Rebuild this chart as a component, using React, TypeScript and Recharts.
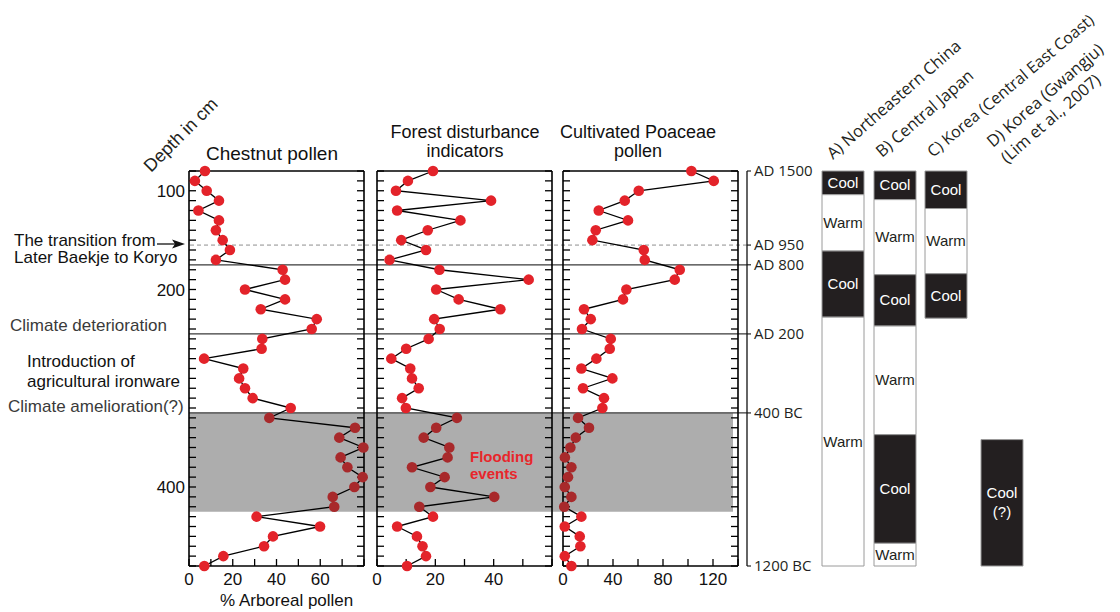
import React from 'react';
import { LineChart, Line, XAxis, YAxis, ComposedChart, ReferenceLine, ReferenceArea } from 'recharts';

document.body.style.margin = '0';

// sample depths (cm), one sample every 10 cm
const depths = [
  80, 90, 100, 110, 120, 130, 140, 150, 160, 170, 180, 190, 200, 210, 220, 230, 240, 250, 260, 270, 280,
  290, 300, 310, 320, 330, 340, 350, 360, 370, 380, 390, 400, 410, 420, 430, 440, 450, 460, 470, 480,
];
const depthLabels = [100, 200, 400];

const chestnut = [
  7.3, 2.7, 8.1, 13.7, 4.3, 13.7, 12.3, 15.4, 18.7, 12.3, 42.8, 43.9, 25.6, 43.9, 32.8, 58.4, 56.1, 33.5, 33.2, 6.9,
  24.8, 22.9, 25.6, 29.1, 46.5, 36.7, 75.9, 68.7, 79.7, 69.3, 72.4, 79.4, 75.6, 65.7, 66.4, 30.9, 59.9, 38.4, 34.3,
  15.7, 7.0,
];
const forest = [
  19.2, 10.6, 6.5, 39.1, 6.9, 28.6, 17.4, 8.3, 16.8, 4.3, 21.4, 52.0, 20.3, 28.0, 42.3, 19.6, 21.5, 17.7, 10.0, 4.9,
  11.4, 12.0, 14.3, 8.6, 9.9, 27.4, 20.3, 16.0, 24.8, 24.2, 12.0, 23.2, 18.3, 40.2, 14.5, 19.2, 6.9, 13.7, 15.6,
  16.8, 10.3,
];
const poaceae = [
  102.7, 120.6, 60.6, 49.4, 28.6, 52.0, 26.2, 23.5, 64.6, 65.4, 93.4, 89.4, 50.7, 48.0, 16.8, 22.2, 15.2, 38.2, 37.4,
  26.7, 14.7, 39.5, 16.0, 32.8, 31.5, 12.0, 20.8, 10.2, 5.9, 1.5, 6.7, 4.0, 1.4, 6.7, 1.0, 14.7, 1.4, 13.4, 13.9, 1.4,
  6.7,
];

const chestnutTicks = [0, 10, 20, 30, 40, 50, 60, 70, 80];
const chestnutLabels = [0, 20, 40, 60];
const forestTicks = [0, 10, 20, 30, 40, 50, 60];
const forestLabels = [0, 20, 40];
const poaceaeTicks = [0, 20, 40, 60, 80, 100, 120, 140];
const poaceaeLabels = [0, 40, 80, 120];

// chronology on the right-hand axis
const eraDepths = [80, 155, 175, 245, 325, 480];
const eraLabels = ['AD 1500', 'AD 950', 'AD 800', 'AD 200', '400 BC', '1200 BC'];
const solidBoundaries = [175, 245, 325];
const dashedBoundaries = [155];
const floodBand = [325, 425];

// climate records (depth-equivalent ranges)
const climateA = [
  { from: 80, to: 104, state: 'Cool' },
  { from: 104, to: 161, state: 'Warm' },
  { from: 161, to: 228, state: 'Cool' },
  { from: 228, to: 480, state: 'Warm' },
];
const climateB = [
  { from: 80, to: 109, state: 'Cool' },
  { from: 109, to: 185, state: 'Warm' },
  { from: 185, to: 237, state: 'Cool' },
  { from: 237, to: 347, state: 'Warm' },
  { from: 347, to: 457, state: 'Cool' },
  { from: 457, to: 480, state: 'Warm' },
];
const climateC = [
  { from: 80, to: 118, state: 'Cool' },
  { from: 118, to: 184, state: 'Warm' },
  { from: 184, to: 229, state: 'Cool' },
];
const climateD = [{ from: 352, to: 480, state: 'Cool\n(?)' }];

const FONT = '"Liberation Sans", Arial, sans-serif';
const HFONT = '"Open Sans", "Noto Sans", sans-serif';
const RED = '#e3232a';
const DARK_RED = '#a8292b';
const INK = '#231f20';

const FRAME_TOP = 171;
const FRAME_H = 395;
const FRAME_W = 175;
const DEPTH_DOMAIN = [80, 480];

const renderDot = (props: any) => {
  const { cx, cy, payload, index } = props;
  const inFlood = payload.depth > floodBand[0] && payload.depth <= floodBand[1];
  return <circle key={`dot-${index}`} cx={cx} cy={cy} r={5.3} fill={inFlood ? DARK_RED : RED} />;
};

function Panel({ frameLeft, values, domain, ticks, labels, showDepth }: any) {
  const m = { top: 20, right: 10, bottom: 10, left: 10 };
  const yW = 40;
  const xH = 40;
  const data = depths.map((depth, i) => ({ depth, value: values[i] }));
  const axisLine = { stroke: '#000', strokeWidth: 1.6 };
  const tickLine = { stroke: '#000', strokeWidth: 1.3 };
  const tickStyle = { fill: '#111', fontSize: 17, fontFamily: FONT };
  return (
    <div style={{ position: 'absolute', left: frameLeft - m.left - yW, top: FRAME_TOP - m.top - 1 }}>
      <LineChart
        layout="vertical"
        width={m.left + yW + FRAME_W + 1 + m.right}
        height={m.top + 1 + FRAME_H + xH + m.bottom}
        data={data}
        margin={m}
      >
        <XAxis
          xAxisId="b"
          type="number"
          domain={domain}
          ticks={ticks}
          interval={0}
          height={xH}
          tickSize={-7}
          tickMargin={14}
          axisLine={axisLine}
          tickLine={tickLine}
          tick={tickStyle}
          tickFormatter={(v: number) => (labels.includes(v) ? String(v) : '')}
        />
        <XAxis
          xAxisId="t"
          orientation="top"
          type="number"
          domain={domain}
          ticks={ticks}
          interval={0}
          height={1}
          tickSize={-7}
          axisLine={axisLine}
          tickLine={tickLine}
          tickFormatter={() => ''}
        />
        <YAxis
          yAxisId="l"
          type="number"
          dataKey="depth"
          domain={DEPTH_DOMAIN}
          ticks={depths}
          interval={0}
          width={yW}
          tickSize={-7}
          tickMargin={11}
          axisLine={axisLine}
          tickLine={tickLine}
          tick={tickStyle}
          tickFormatter={(v: number) => (showDepth && depthLabels.includes(v) ? String(v) : '')}
        />
        <YAxis
          yAxisId="r"
          orientation="right"
          type="number"
          dataKey="depth"
          domain={DEPTH_DOMAIN}
          ticks={depths}
          interval={0}
          width={1}
          tickSize={-7}
          axisLine={axisLine}
          tickLine={tickLine}
          tickFormatter={() => ''}
        />
        <Line
          xAxisId="b"
          yAxisId="l"
          dataKey="value"
          stroke="#000"
          strokeWidth={1.3}
          dot={renderDot}
          activeDot={false}
          isAnimationActive={false}
        />
      </LineChart>
    </div>
  );
}

function FloodBand() {
  const left = 189;
  const right = 733;
  const m = { top: 10, right: 0, bottom: 10, left: 0 };
  const data = depths.map((depth) => ({ depth }));
  return (
    <div style={{ position: 'absolute', left, top: FRAME_TOP - m.top }}>
      <ComposedChart layout="vertical" width={right - left} height={FRAME_H + m.top + m.bottom} data={data} margin={m}>
        <XAxis type="number" domain={[0, 1]} allowDataOverflow hide />
        <YAxis type="number" dataKey="depth" domain={DEPTH_DOMAIN} allowDataOverflow hide />
        <ReferenceArea
          x1={0}
          x2={1}
          y1={floodBand[0]}
          y2={floodBand[1]}
          fill="#adadad"
          fillOpacity={1}
          stroke="none"
          ifOverflow="visible"
        />
      </ComposedChart>
    </div>
  );
}

function Chronology() {
  const left = 189;
  const axisX = 747;
  const axisW = 80;
  const m = { top: 10, right: 0, bottom: 10, left: 0 };
  const data = depths.map((depth) => ({ depth }));
  return (
    <div style={{ position: 'absolute', left, top: FRAME_TOP - m.top }}>
      <ComposedChart layout="vertical" width={axisX - left + axisW} height={FRAME_H + m.top + m.bottom} data={data} margin={m}>
        <XAxis type="number" domain={[0, 1]} allowDataOverflow hide />
        <YAxis
          type="number"
          dataKey="depth"
          orientation="right"
          domain={DEPTH_DOMAIN}
          allowDataOverflow
          ticks={eraDepths}
          interval={0}
          width={axisW}
          tickSize={4}
          tickMargin={3}
          axisLine={{ stroke: '#111', strokeWidth: 1.3 }}
          tickLine={{ stroke: '#111', strokeWidth: 1.1 }}
          tick={{ fill: INK, fontSize: 15, fontFamily: HFONT }}
          tickFormatter={(v: number) => eraLabels[eraDepths.indexOf(v)]}
        />
        {dashedBoundaries.map((d) => (
          <ReferenceLine key={`d${d}`} y={d} stroke="#8f8f8f" strokeWidth={1} strokeDasharray="4 3" ifOverflow="visible" />
        ))}
        {solidBoundaries.map((d) => (
          <ReferenceLine key={`s${d}`} y={d} stroke="#3a3a3a" strokeWidth={1.2} ifOverflow="visible" />
        ))}
      </ComposedChart>
    </div>
  );
}

function ClimateText({ viewBox, text, dark }: any) {
  if (!viewBox) return null;
  const lines = String(text).split('\n');
  const cx = viewBox.x + viewBox.width / 2;
  const cy = viewBox.y + viewBox.height / 2;
  const lh = 19;
  return (
    <text
      x={cx}
      y={cy - ((lines.length - 1) * lh) / 2 + 5}
      textAnchor="middle"
      fontFamily={FONT}
      fontSize={15}
      fill={dark ? '#fff' : INK}
    >
      {lines.map((l, i) => (
        <tspan key={i} x={cx} dy={i === 0 ? 0 : lh}>
          {l}
        </tspan>
      ))}
    </text>
  );
}

function ClimateColumn({ left, segs }: any) {
  const m = { top: 10, right: 1, bottom: 10, left: 1 };
  const data = depths.map((depth) => ({ depth }));
  return (
    <div style={{ position: 'absolute', left: left - 1, top: FRAME_TOP - m.top }}>
      <ComposedChart layout="vertical" width={44} height={FRAME_H + m.top + m.bottom} data={data} margin={m}>
        <XAxis type="number" domain={[0, 1]} allowDataOverflow hide />
        <YAxis type="number" dataKey="depth" domain={DEPTH_DOMAIN} allowDataOverflow hide />
        {segs.map((s: any, i: number) => {
          const dark = s.state.startsWith('Cool');
          return (
            <ReferenceArea
              key={i}
              x1={0}
              x2={1}
              y1={s.from}
              y2={s.to}
              fill={dark ? INK : '#fff'}
              fillOpacity={1}
              stroke="#9a9a9a"
              strokeWidth={1}
              ifOverflow="visible"
              label={(p: any) => <ClimateText viewBox={p.viewBox} text={s.state} dark={dark} />}
            />
          );
        })}
      </ComposedChart>
    </div>
  );
}

function Annotations() {
  const t = { fontFamily: FONT, fontSize: 17, fill: '#111' };
  const h = { fontFamily: HFONT, fontSize: 16.5, fill: INK };
  return (
    <svg width={1120} height={612} style={{ position: 'absolute', left: 0, top: 0, pointerEvents: 'none' }}>
      <text {...t} fontSize={18} fill={INK} transform="translate(151,173) rotate(-45)">Depth in cm</text>

      <text {...t} fontSize={19} x={272} y={160} textAnchor="middle">Chestnut pollen</text>
      <text {...t} fontSize={18} x={465} y={137.5} textAnchor="middle">Forest disturbance</text>
      <text {...t} fontSize={18} x={465} y={156.5} textAnchor="middle">indicators</text>
      <text {...t} fontSize={18} x={638} y={137.5} textAnchor="middle">Cultivated Poaceae</text>
      <text {...t} fontSize={18} x={638} y={156.5} textAnchor="middle">pollen</text>

      <text {...t} x={14} y={246}>The transition from</text>
      <text {...t} x={14} y={263}>Later Baekje to Koryo</text>
      <line x1={157} y1={244} x2={176} y2={244} stroke="#111" strokeWidth={1.3} />
      <polygon points="185,244 172,239.5 175,244 172,248.5" fill="#111" />
      <text {...t} fill="#3a3a3a" x={10} y={331}>Climate deterioration</text>
      <text {...t} x={27} y={367}>Introduction of</text>
      <text {...t} x={27} y={387}>agricultural ironware</text>
      <text {...t} fill="#3a3a3a" x={8} y={412}>Climate amelioration(?)</text>

      <text {...t} x={220} y={606}>% Arboreal pollen</text>

      <text fontFamily={FONT} fontSize={15} fontWeight="bold" fill="#e8262b" x={470} y={462}>Flooding</text>
      <text fontFamily={FONT} fontSize={15} fontWeight="bold" fill="#e8262b" x={470} y={479}>events</text>

      <text {...h} transform="translate(833,160) rotate(-41)">A) Northeastern China</text>
      <text {...h} transform="translate(882,158) rotate(-41)">B) Central Japan</text>
      <text {...h} fontSize={16} transform="translate(933,158) rotate(-40)">C) Korea (Central East Coast)</text>
      <text {...h} transform="translate(993,148) rotate(-41)">D) Korea (Gwangju)</text>
      <text {...h} transform="translate(1007,164) rotate(-41)">(Lim et al., 2007)</text>
    </svg>
  );
}

export default function App() {
  return (
    <div style={{ position: 'relative', width: 1120, height: 612, background: '#fff', overflow: 'hidden' }}>
      <FloodBand />
      <Chronology />
      <Panel frameLeft={189} values={chestnut} domain={[0, 80]} ticks={chestnutTicks} labels={chestnutLabels} showDepth />
      <Panel frameLeft={377} values={forest} domain={[0, 60]} ticks={forestTicks} labels={forestLabels} />
      <Panel frameLeft={563} values={poaceae} domain={[0, 140]} ticks={poaceaeTicks} labels={poaceaeLabels} />
      <ClimateColumn left={822} segs={climateA} />
      <ClimateColumn left={874} segs={climateB} />
      <ClimateColumn left={925} segs={climateC} />
      <ClimateColumn left={981} segs={climateD} />
      <Annotations />
    </div>
  );
}
